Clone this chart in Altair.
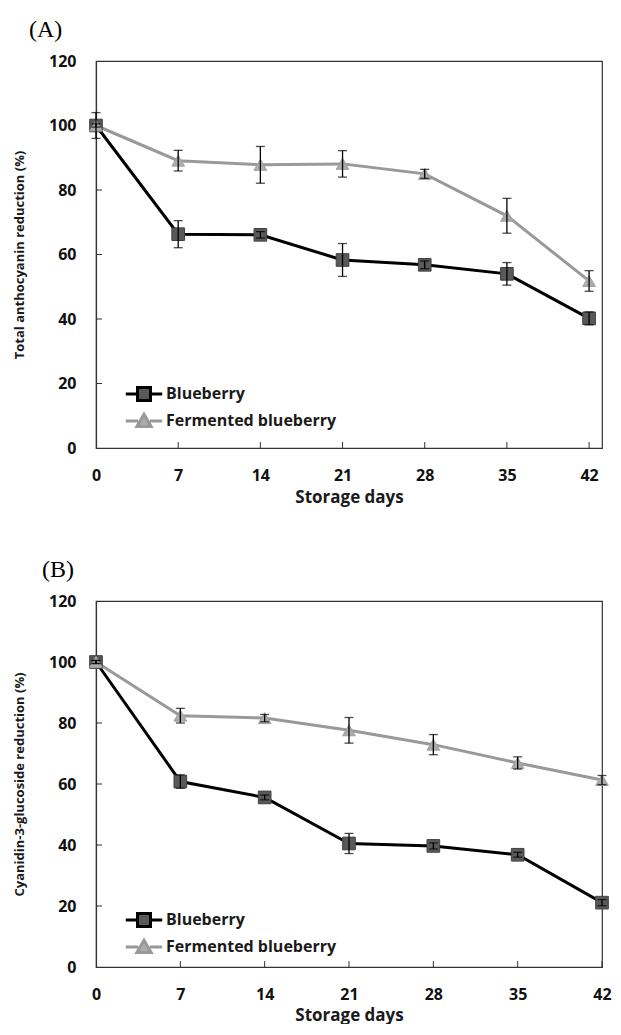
import altair as alt
import pandas as pd

days = [0, 7, 14, 21, 28, 35, 42]
series_names = ["Blueberry", "Fermented blueberry"]

a_blue = [100, 66.3, 66.1, 58.3, 56.8, 54.0, 40.2]
a_blue_err = [4.0, 4.2, 1.0, 5.1, 1.2, 3.5, 2.0]
a_ferm = [100, 89.1, 87.8, 88.1, 85.0, 72.0, 51.8]
a_ferm_err = [0.5, 3.2, 5.7, 4.1, 1.4, 5.4, 3.2]

b_blue = [100, 60.8, 55.6, 40.5, 39.7, 36.8, 21.1]
b_blue_err = [0.5, 2.2, 0.8, 3.3, 1.0, 0.8, 1.0]
b_ferm = [100, 82.4, 81.6, 77.6, 72.9, 66.9, 61.3]
b_ferm_err = [0.5, 2.4, 1.2, 4.2, 3.3, 2.0, 1.5]

y_ticks = [0, 20, 40, 60, 80, 100, 120]

FONT = "Open Sans"
SQ_PATH = "M-2.8,0H-1M1,0H2.8M-1,-1H1V1H-1Z"
TRI_PATH = "M-2.8,0H-0.9M0.9,0H2.8M0,-1.05L1.1,0.85H-1.1Z"


def panel(label, label_dx, ytitle, blue, blue_err, ferm, ferm_err, xmax, height,
          title_pad, legend_y):
    rows = []
    for s, vals, errs in [(series_names[0], blue, blue_err), (series_names[1], ferm, ferm_err)]:
        for d, v, e in zip(days, vals, errs):
            rows.append({"day": d, "value": v, "lo": v - e, "hi": v + e,
                         "series": s, "legend": s})
    df = pd.DataFrame(rows)
    base = alt.Chart(df)

    xs = alt.Scale(domain=[0, xmax], nice=False, zero=False)
    ys = alt.Scale(domain=[0, 120], nice=False)
    xax = alt.Axis(values=days, tickSize=0, labelPadding=19, title="Storage days",
                   titlePadding=title_pad, grid=False, labelFlush=False,
                   labelFont=FONT, labelFontSize=16, labelFontWeight="bold",
                   labelColor="#111", titleFont=FONT, titleFontSize=17,
                   titleFontWeight="bold", titleColor="#1a1a1a",
                   domainColor="#333", domainWidth=1.2)
    yax = alt.Axis(values=y_ticks, tickSize=0, labelPadding=20, title=ytitle,
                   titlePadding=22, grid=False,
                   labelFont=FONT, labelFontSize=16, labelFontWeight="bold",
                   labelColor="#111", titleFont=FONT, titleFontSize=13,
                   titleFontWeight="bold", titleColor="#1a1a1a",
                   domainColor="#333", domainWidth=1.2)
    X = alt.X("day:Q", scale=xs, axis=xax, title="Storage days")
    Y = alt.Y("value:Q", scale=ys, axis=yax, title=ytitle)

    ytick_df = pd.DataFrame({"value": y_ticks[1:-1]})
    xtick_df = pd.DataFrame({"day": days[1:]})
    yt = alt.Chart(ytick_df).mark_rule(color="#333", strokeWidth=1).encode(
        y=Y, x=alt.value(0), x2=alt.value(6))
    xt = alt.Chart(xtick_df).mark_rule(color="#333", strokeWidth=1).encode(
        x=X, y=alt.value(height), y2=alt.value(height - 6))

    lines = base.mark_line(strokeWidth=3).encode(
        x=X, y=Y,
        color=alt.Color("series:N", scale=alt.Scale(domain=series_names,
                                                    range=["#000000", "#999999"]),
                        legend=None))
    pts = base.mark_point(filled=True, opacity=1, strokeWidth=1).encode(
        x=X, y=Y,
        shape=alt.Shape("series:N", scale=alt.Scale(domain=series_names,
                                                    range=["square", "triangle-up"]),
                        legend=None),
        fill=alt.Fill("series:N", scale=alt.Scale(domain=series_names,
                                                  range=["#595959", "#ababab"]),
                      legend=None),
        stroke=alt.Stroke("series:N", scale=alt.Scale(domain=series_names,
                                                      range=["#404040", "#a0a0a0"]),
                          legend=None),
        size=alt.value(160))
    rule = base.mark_rule(color="black", strokeWidth=1.3).encode(
        x=X, y=alt.Y("lo:Q", scale=ys, axis=yax, title=ytitle), y2="hi:Q")
    cap_lo = base.mark_tick(color="black", orient="horizontal", size=9, thickness=1.3).encode(
        x=X, y=alt.Y("lo:Q", scale=ys, axis=yax, title=ytitle))
    cap_hi = base.mark_tick(color="black", orient="horizontal", size=9, thickness=1.3).encode(
        x=X, y=alt.Y("hi:Q", scale=ys, axis=yax, title=ytitle))

    leg = base.mark_point(filled=True, opacity=1).encode(
        x=X, y=Y,
        shape=alt.Shape("legend:N", scale=alt.Scale(domain=series_names,
                                                    range=[SQ_PATH, TRI_PATH]),
                        legend=alt.Legend(title=None, orient="none", legendX=40,
                                          legendY=legend_y, symbolSize=169,
                                          symbolStrokeWidth=3, labelFont=FONT,
                                          labelFontSize=16, labelFontWeight="bold",
                                          labelColor="#1a1a1a", labelOffset=14,
                                          labelLimit=400, rowPadding=1, padding=0)),
        fill=alt.Fill("legend:N", scale=alt.Scale(domain=series_names,
                                                  range=["#595959", "#ababab"])),
        stroke=alt.Stroke("legend:N", scale=alt.Scale(domain=series_names,
                                                      range=["#000000", "#999999"])),
    ).transform_filter("datum.day < 0")

    layered = alt.layer(yt, xt, lines, pts, rule, cap_lo, cap_hi, leg).resolve_scale(
        shape="independent", fill="independent", stroke="independent",
        color="independent").resolve_legend(
        shape="independent", fill="independent", stroke="independent",
        color="independent")
    return layered.properties(
        width=506, height=height,
        title=alt.TitleParams(label, anchor="start", frame="group",
                              font="Liberation Serif",
                              fontSize=24, fontWeight="normal", dx=label_dx,
                              offset=11, color="black"))


pa = panel("(A)", -67, "Total anthocyanin reduction (%)", a_blue, a_blue_err,
           a_ferm, a_ferm_err, 43.1, 387, 6, 325)
pb = panel("(B)", -54, "Cyanidin-3-glucoside reduction (%)", b_blue, b_blue_err,
           b_ferm, b_ferm_err, 42, 366, 5, 311)

chart = alt.vconcat(pa, pb, spacing=51, background="white",
                    padding={"top": 9, "left": 4, "right": 0, "bottom": 0}
                    ).configure_view(stroke="#333", strokeWidth=1.2)

chart.save("out.html", embed_options={"renderer": "svg", "actions": False})
